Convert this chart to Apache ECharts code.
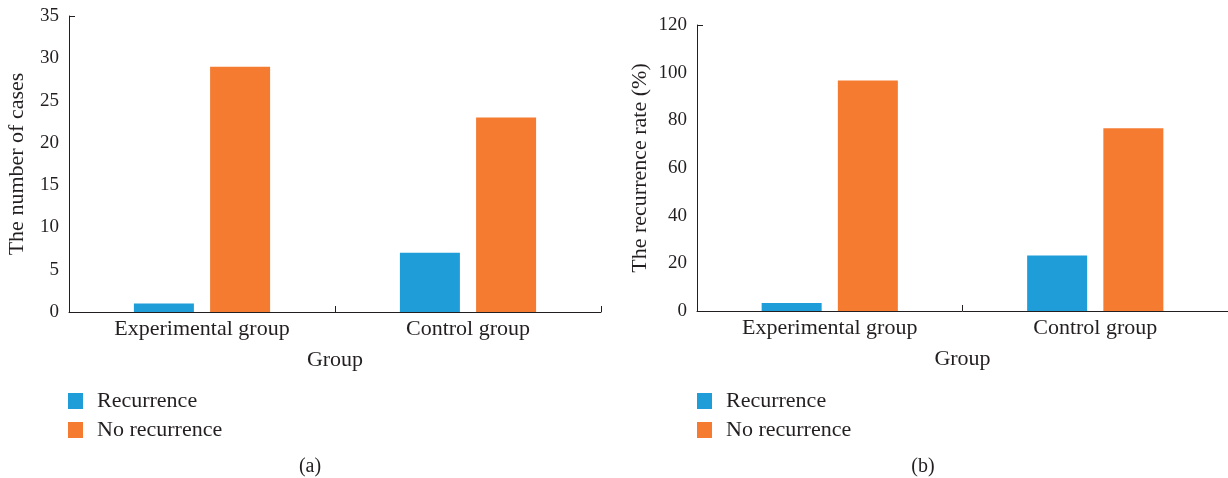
<!DOCTYPE html>
<html>
<head>
<meta charset="utf-8">
<script src="https://cdn.jsdelivr.net/npm/echarts@6/dist/echarts.min.js"></script>
<style>
  html, body { margin: 0; padding: 0; background: #fff; }
  #chart { width: 1228px; height: 478px; }
</style>
</head>
<body>
<div id="chart"></div>
<script>
const groups = ['Experimental group', 'Control group'];
const seriesNames = ['Recurrence', 'No recurrence'];
// Panel (a): number of cases
const casesRecurrence = [1, 7];
const casesNoRecurrence = [29, 23];
// Panel (b): rate in percent
const rateRecurrence = [3.33, 23.33];
const rateNoRecurrence = [96.67, 76.67];

const ink = '#231f20';
const font = 'Liberation Serif';
const blue = '#1e9dd8';
const orange = '#f47b30';
const textSize = 22;

function xAxisFor(gridIndex) {
  return {
    type: 'category', gridIndex, data: groups,
    name: 'Group', nameLocation: 'middle', nameGap: 37,
    nameTextStyle: { color: ink, fontFamily: font, fontSize: textSize },
    axisLine: { lineStyle: { color: ink, width: 1 } },
    axisTick: { show: true, inside: true, length: 6, lineStyle: { color: ink } },
    axisLabel: { color: ink, fontFamily: font, fontSize: textSize, margin: 6 }
  };
}
function yAxisFor(gridIndex, max, interval, name, gap) {
  return {
    type: 'value', gridIndex, min: 0, max, interval,
    name, nameLocation: 'middle', nameGap: gap,
    nameTextStyle: { color: ink, fontFamily: font, fontSize: textSize },
    axisLine: { show: true, lineStyle: { color: ink, width: 1 } },
    axisTick: { show: true, inside: true, length: 6, customValues: [max], lineStyle: { color: ink } },
    splitLine: { show: false },
    axisLabel: { color: ink, fontFamily: font, fontSize: 19, margin: 10 }
  };
}
function bar(name, data, idx, color) {
  return {
    type: 'bar', name, data, xAxisIndex: idx, yAxisIndex: idx,
    barWidth: 60, barGap: '27%', itemStyle: { color }
  };
}
function legendAt(left) {
  return {
    left, top: 385, orient: 'vertical', itemWidth: 15, itemHeight: 16, itemGap: 7,
    data: seriesNames.map(n => ({ name: n, icon: 'rect' })),
    textStyle: { color: ink, fontFamily: font, fontSize: textSize, padding: [0, 0, 0, 9] }
  };
}

const chart = echarts.init(document.getElementById('chart'), null, { renderer: 'canvas' });
chart.setOption({
  animation: false,
  color: [blue, orange],
  grid: [
    { left: 69, top: 16, width: 532, height: 296 },
    { left: 697, top: 25, width: 532, height: 286 }
  ],
  xAxis: [xAxisFor(0), xAxisFor(1)],
  yAxis: [
    yAxisFor(0, 35, 5, 'The number of cases', 41),
    yAxisFor(1, 120, 20, 'The recurrence rate (%)', 46)
  ],
  legend: [legendAt(63), legendAt(692)],
  title: [
    { text: '(a)', left: 305, top: 452, textAlign: 'center',
      textStyle: { color: ink, fontFamily: font, fontSize: 20, fontWeight: 'normal' } },
    { text: '(b)', left: 918, top: 452, textAlign: 'center',
      textStyle: { color: ink, fontFamily: font, fontSize: 20, fontWeight: 'normal' } }
  ],
  series: [
    bar(seriesNames[0], casesRecurrence, 0, blue),
    bar(seriesNames[1], casesNoRecurrence, 0, orange),
    bar(seriesNames[0], rateRecurrence, 1, blue),
    bar(seriesNames[1], rateNoRecurrence, 1, orange)
  ]
});
</script>
</body>
</html>
